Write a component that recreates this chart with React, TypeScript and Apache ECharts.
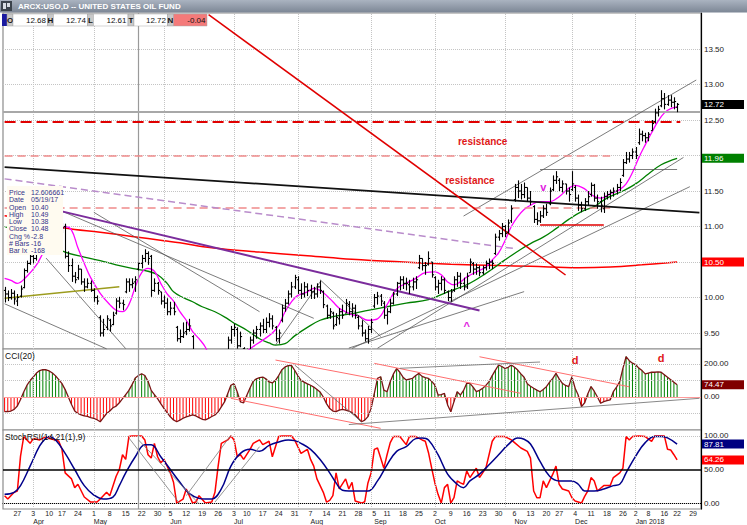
import React, { useEffect, useRef } from "react";
import * as echarts from "echarts";

const FONT = "'Liberation Sans', Arial, sans-serif";

// ---------- categories (trading days) ----------
const FIRST_DAY = "2017-03-21";
const LAST_DAY = "2018-01-31";
const HOLIDAYS = ["2017-04-14", "2017-05-29", "2017-07-04", "2017-09-04", "2017-11-23", "2017-12-25", "2018-01-01", "2018-01-15"];
const MONTH_NAMES = ["Jan", "Feb", "Mar", "Apr", "May", "Jun", "Jul", "Aug", "Sep", "Oct", "Nov", "Dec"];

// ---------- price bars: [open, high, low, close] ----------
const OHLC: number[][] = [
  [10.10, 10.15, 9.93, 10.05], [10.05, 10.10, 9.95, 10.00], [10.00, 10.12, 9.97, 10.06], [10.06, 10.10, 9.90, 9.98],
  [9.95, 10.05, 9.88, 10.00], [10.02, 10.17, 10.00, 10.12], [10.14, 10.41, 10.13, 10.38], [10.38, 10.52, 10.35, 10.48], [10.48, 10.62, 10.46, 10.58],
  [10.58, 10.62, 10.48, 10.55], [10.55, 10.72, 10.52, 10.68], [10.68, 10.80, 10.62, 10.74], [10.74, 10.88, 10.70, 10.85], [10.85, 10.92, 10.78, 10.82],
  [10.84, 10.98, 10.80, 10.95], [10.95, 11.05, 10.90, 11.00], [11.00, 11.10, 10.95, 11.02], [11.02, 11.06, 10.92, 10.98],
  [10.98, 11.05, 10.90, 10.98], [11.00, 11.04, 10.55, 10.58], [10.58, 10.65, 10.36, 10.45], [10.45, 10.55, 10.22, 10.30], [10.30, 10.36, 10.20, 10.25],
  [10.28, 10.46, 10.25, 10.40], [10.40, 10.40, 10.18, 10.22], [10.22, 10.27, 10.08, 10.15], [10.15, 10.27, 10.13, 10.20], [10.20, 10.24, 10.08, 10.10],
  [10.10, 10.13, 9.94, 10.00], [10.00, 10.03, 9.90, 9.95], [9.72, 9.75, 9.45, 9.50], [9.50, 9.70, 9.45, 9.55], [9.58, 9.75, 9.54, 9.70],
  [9.68, 9.70, 9.52, 9.60], [9.62, 9.80, 9.61, 9.75], [9.78, 9.99, 9.76, 9.95], [9.95, 10.01, 9.85, 9.92], [9.92, 9.97, 9.82, 9.90],
  [10.08, 10.27, 10.06, 10.22], [10.22, 10.27, 10.08, 10.18], [10.18, 10.27, 10.13, 10.20], [10.22, 10.30, 10.08, 10.25], [10.40, 10.49, 10.38, 10.48],
  [10.48, 10.60, 10.41, 10.55], [10.55, 10.68, 10.50, 10.62], [10.62, 10.65, 10.46, 10.55], [10.58, 10.60, 10.01, 10.10], [10.10, 10.27, 10.08, 10.20],
  [10.20, 10.22, 10.04, 10.10], [10.08, 10.08, 9.90, 9.95], [9.95, 10.03, 9.85, 9.92], [9.92, 9.99, 9.75, 9.80],
  [9.80, 9.94, 9.75, 9.85], [9.85, 9.94, 9.75, 9.80], [9.58, 9.60, 9.38, 9.42], [9.42, 9.55, 9.36, 9.45], [9.45, 9.65, 9.43, 9.50],
  [9.52, 9.66, 9.47, 9.55], [9.55, 9.70, 9.52, 9.60], [9.45, 9.47, 9.20, 9.25], [9.20, 9.22, 9.05, 9.10], [9.10, 9.15, 8.98, 9.05],
  [9.05, 9.10, 8.92, 8.95], [8.95, 8.98, 8.78, 8.85], [8.85, 8.90, 8.70, 8.75], [8.75, 8.90, 8.72, 8.82], [8.82, 8.95, 8.78, 8.90],
  [8.90, 9.00, 8.85, 8.95], [8.95, 9.10, 8.90, 9.05], [9.05, 9.15, 9.00, 9.10], [9.22, 9.45, 9.20, 9.40], [9.40, 9.60, 9.35, 9.55],
  [9.55, 9.63, 9.45, 9.58], [9.55, 9.58, 9.28, 9.32], [9.32, 9.52, 9.30, 9.45], [9.28, 9.30, 9.10, 9.15],
  [9.15, 9.28, 9.12, 9.22], [9.25, 9.45, 9.25, 9.40], [9.40, 9.55, 9.35, 9.50], [9.50, 9.60, 9.42, 9.55], [9.55, 9.65, 9.45, 9.60],
  [9.60, 9.70, 9.50, 9.55], [9.55, 9.72, 9.50, 9.65], [9.65, 9.78, 9.58, 9.70], [9.70, 9.75, 9.55, 9.60], [9.58, 9.60, 9.38, 9.42],
  [9.42, 9.55, 9.35, 9.50], [9.68, 9.90, 9.65, 9.85], [9.85, 9.98, 9.80, 9.92], [9.92, 10.10, 9.90, 10.05], [10.05, 10.22, 10.00, 10.15],
  [10.15, 10.32, 10.12, 10.28], [10.25, 10.30, 10.05, 10.10], [10.10, 10.20, 9.98, 10.05], [10.05, 10.22, 10.00, 10.15], [10.15, 10.20, 10.02, 10.10],
  [10.10, 10.18, 9.98, 10.08], [10.08, 10.15, 9.98, 10.05], [10.05, 10.20, 10.00, 10.15], [10.15, 10.24, 10.05, 10.10], [10.08, 10.10, 9.85, 9.90],
  [9.88, 9.90, 9.70, 9.75], [9.75, 9.85, 9.70, 9.80], [9.78, 9.80, 9.55, 9.60], [9.62, 9.78, 9.60, 9.72], [9.70, 9.85, 9.62, 9.80],
  [9.80, 9.90, 9.70, 9.75], [9.78, 9.98, 9.78, 9.92], [9.90, 9.95, 9.75, 9.80], [9.80, 9.92, 9.72, 9.85], [9.85, 9.90, 9.70, 9.75],
  [9.72, 9.75, 9.55, 9.60], [9.60, 9.68, 9.45, 9.50], [9.50, 9.55, 9.38, 9.42], [9.42, 9.60, 9.35, 9.55], [9.55, 9.70, 9.50, 9.65],
  [9.88, 10.05, 9.85, 10.00], [10.00, 10.08, 9.90, 10.02], [10.02, 10.05, 9.88, 9.95], [9.92, 9.95, 9.70, 9.75],
  [9.75, 9.85, 9.62, 9.80], [9.80, 9.98, 9.78, 9.92], [9.92, 10.08, 9.90, 10.05], [10.05, 10.22, 10.02, 10.20], [10.20, 10.30, 10.10, 10.25],
  [10.25, 10.30, 10.12, 10.20], [10.20, 10.28, 10.10, 10.20], [10.18, 10.25, 10.05, 10.15], [10.15, 10.28, 10.10, 10.22], [10.22, 10.30, 10.12, 10.25],
  [10.42, 10.60, 10.40, 10.55], [10.55, 10.55, 10.38, 10.45], [10.45, 10.50, 10.32, 10.45], [10.47, 10.65, 10.45, 10.55], [10.50, 10.50, 10.28, 10.32],
  [10.28, 10.30, 10.10, 10.15], [10.15, 10.25, 10.05, 10.20], [10.20, 10.30, 10.10, 10.25], [10.25, 10.28, 10.05, 10.10], [10.08, 10.10, 9.95, 10.00],
  [10.00, 10.12, 9.94, 10.08], [10.10, 10.30, 10.08, 10.25], [10.25, 10.36, 10.15, 10.30], [10.30, 10.35, 10.12, 10.20], [10.20, 10.28, 10.10, 10.15],
  [10.15, 10.35, 10.12, 10.30], [10.35, 10.55, 10.35, 10.50], [10.48, 10.50, 10.32, 10.40], [10.40, 10.48, 10.32, 10.42], [10.42, 10.45, 10.30, 10.35],
  [10.35, 10.45, 10.32, 10.42], [10.42, 10.52, 10.38, 10.48], [10.48, 10.55, 10.40, 10.50], [10.50, 10.53, 10.40, 10.48], [10.62, 10.90, 10.60, 10.85],
  [10.85, 10.95, 10.80, 10.90], [10.90, 11.05, 10.85, 11.00], [11.00, 11.02, 10.85, 10.90], [10.92, 11.10, 10.90, 11.05], [11.08, 11.30, 11.05, 11.25],
  [11.38, 11.60, 11.35, 11.55], [11.55, 11.65, 11.40, 11.50], [11.50, 11.60, 11.38, 11.45], [11.45, 11.62, 11.40, 11.55], [11.55, 11.55, 11.35, 11.40],
  [11.40, 11.50, 11.30, 11.35], [11.28, 11.30, 11.05, 11.10], [11.10, 11.20, 11.02, 11.08], [11.08, 11.22, 11.05, 11.15], [11.15, 11.30, 11.12, 11.25],
  [11.25, 11.32, 11.15, 11.20], [11.32, 11.55, 11.30, 11.50], [11.52, 11.72, 11.50, 11.65], [11.65, 11.78, 11.60, 11.70],
  [11.65, 11.68, 11.50, 11.55], [11.55, 11.65, 11.48, 11.60], [11.60, 11.60, 11.45, 11.50], [11.50, 11.55, 11.35, 11.45], [11.52, 11.78, 11.50, 11.60],
  [11.55, 11.58, 11.35, 11.40], [11.40, 11.45, 11.22, 11.30], [11.30, 11.35, 11.20, 11.25], [11.25, 11.40, 11.22, 11.35], [11.35, 11.50, 11.30, 11.42],
  [11.45, 11.62, 11.42, 11.58], [11.58, 11.60, 11.35, 11.40], [11.40, 11.45, 11.25, 11.35], [11.35, 11.42, 11.20, 11.30], [11.25, 11.48, 11.19, 11.42],
  [11.42, 11.50, 11.38, 11.45], [11.45, 11.52, 11.38, 11.48], [11.48, 11.55, 11.42, 11.50], [11.50, 11.60, 11.45, 11.55], [11.55, 11.68, 11.50, 11.62],
  [11.72, 11.95, 11.70, 11.90], [11.90, 12.05, 11.88, 11.95], [11.95, 12.05, 11.90, 12.00], [12.00, 12.10, 11.95, 12.05],
  [12.05, 12.12, 11.95, 12.00], [12.18, 12.38, 12.15, 12.30], [12.30, 12.35, 12.20, 12.28], [12.28, 12.32, 12.18, 12.25],
  [12.25, 12.33, 12.20, 12.30], [12.35, 12.50, 12.35, 12.45], [12.48, 12.66, 12.45, 12.60], [12.60, 12.70, 12.55, 12.65], [12.70, 12.92, 12.68, 12.80],
  [12.80, 12.88, 12.65, 12.72], [12.72, 12.85, 12.70, 12.78], [12.78, 12.85, 12.68, 12.75], [12.75, 12.82, 12.65, 12.76],
  [12.68, 12.74, 12.61, 12.72],
];

// ---------- overlays: [dayIndex, value] ----------
const MA_MAGENTA: number[][] = [
  [0, 10.27], [2, 10.24], [4, 10.2], [7, 10.3], [10, 10.46], [12, 10.62], [14, 10.75], [16, 10.88], [19, 11.0], [21, 10.95], [23, 10.7],
  [25, 10.48], [27, 10.28], [30, 10.06], [33, 9.9], [35, 9.82], [37, 9.8], [39, 9.9], [41, 10.15], [43, 10.35], [45, 10.41], [47, 10.37],
  [49, 10.2], [51, 10.05], [53, 9.95], [55, 9.8], [57, 9.68], [59, 9.52], [61, 9.42], [63, 9.3], [65, 9.1], [67, 9.0], [70, 8.98],
  [73, 9.12], [76, 9.24], [78, 9.31], [81, 9.4], [84, 9.5], [86, 9.61], [88, 9.8], [90, 9.94], [92, 10.03], [95, 10.08], [97, 10.13],
  [99, 10.1], [101, 10.03], [103, 9.94], [105, 9.85], [107, 9.8], [109, 9.76], [111, 9.74], [114, 9.68], [117, 9.7], [120, 9.9],
  [123, 10.12], [126, 10.2], [129, 10.27], [132, 10.35], [135, 10.36], [137, 10.32], [139, 10.22], [141, 10.18], [143, 10.22],
  [145, 10.29], [148, 10.36], [151, 10.43], [153, 10.53], [155, 10.63], [157, 10.8], [159, 11.0], [161, 11.14], [163, 11.24],
  [165, 11.3], [168, 11.35], [171, 11.35], [174, 11.42], [177, 11.54], [179, 11.58], [182, 11.53], [184, 11.45], [187, 11.4],
  [190, 11.46], [193, 11.52], [195, 11.6], [197, 11.76], [199, 11.97], [201, 12.15], [203, 12.32], [205, 12.48], [207, 12.6],
  [209, 12.66], [211, 12.68],
];
const MA_GREEN: number[][] = [
  [0, 11.0], [10, 10.82], [19, 10.64], [25, 10.57], [30, 10.52], [35, 10.46], [40, 10.41], [45, 10.37], [48, 10.32], [51, 10.2],
  [53, 10.08], [56, 10.0], [59, 9.94], [62, 9.87], [66, 9.8], [70, 9.7], [72, 9.64], [76, 9.54], [80, 9.42], [83, 9.36], [85, 9.33],
  [88, 9.35], [91, 9.46], [95, 9.58], [99, 9.68], [103, 9.73], [107, 9.76], [110, 9.78], [114, 9.82], [120, 9.87], [126, 9.92],
  [133, 9.97], [139, 10.08], [145, 10.18], [151, 10.34], [157, 10.53], [162, 10.68], [165, 10.76], [169, 10.85], [173, 10.97],
  [177, 11.1], [181, 11.21], [185, 11.28], [189, 11.4], [194, 11.5], [198, 11.6], [202, 11.74], [206, 11.87], [211, 11.96],
];
const MA_RED: number[][] = [
  [0, 11.15], [10, 11.08], [19, 10.98], [30, 10.92], [40, 10.86], [50, 10.8], [55, 10.77], [65, 10.7], [80, 10.64], [95, 10.59],
  [109, 10.54], [125, 10.5], [140, 10.47], [155, 10.45], [165, 10.44], [180, 10.42], [190, 10.43], [200, 10.46], [211, 10.5],
];

// ---------- CCI(20), one value per day ----------
const CCI: number[] = [
  -89, -88, -85, -75, -55, -15, 30, 70, 100, 121,
  145, 160, 166, 165, 158, 145, 128, 105, 81, 45,
  0, -45, -85, -100, -108, -115, -118, -125, -130, -138,
  -150, -125, -100, -85, -65, -55, -35, -10, 15, 40,
  75, 115, 130, 141, 130, 95, 40, 15, -10, -40,
  -69, -95, -120, -139, -150, -140, -129, -120, -115, -109,
  -115, -125, -135, -139, -130, -118, -109, -90, -60, -30,
  20, 71, 81, 30, -30, -35, 10, 55, 95, 110,
  118, 121, 110, 91, 85, 101, 130, 165, 182, 190,
  192, 162, 130, 101, 90, 80, 71, 60, 45, 30,
  0, -40, -70, -85, -89, -80, -75, -79, -85, -95,
  -109, -130, -150, -140, -119, -69, 20, 113, 123, 42,
  32, 93, 140, 173, 150, 120, 103, 108, 113, 130,
  143, 125, 118, 113, 95, 73, 12, 15, 22, -48,
  -89, -28, 32, 12, 40, 83, 83, 60, 32, 40,
  53, 70, 93, 130, 163, 194, 185, 173, 180, 194,
  180, 163, 140, 120, 80, 65, 53, 42, 32, 45,
  63, 90, 113, 143, 110, 83, 70, 63, 123, 53,
  10, -58, -35, 20, 63, 35, 0, -38, -28, -22,
  -18, 32, 60, 93, 173, 245, 220, 205, 195, 175,
  160, 140, 145, 150, 150, 152, 150, 135, 120, 105,
  90, 74.47,
];

// ---------- StochRSI(14,21(1),9): [dayIndex, value] ----------
const STOCH_RSI: number[][] = [
  [0, 11], [1, 6], [3, 16], [4, 18], [5, 70], [6, 99], [8, 89], [9, 96], [11, 94], [13, 99], [14, 96], [16, 94], [17, 92], [18, 80],
  [19, 45], [21, 36], [22, 23], [23, 28], [25, 9], [27, 1.5], [29, 1.5], [30, 6], [32, 16], [33, 11], [35, 40], [36, 50], [37, 72],
  [38, 65], [39, 99], [40, 100], [43, 100], [44, 94], [45, 72], [46, 67], [47, 89], [48, 69], [49, 60], [50, 65], [51, 55], [52, 45],
  [53, 31], [54, 0], [56, 6], [57, 21], [59, 0], [60, 1.5], [61, 11], [63, 0], [65, 1.5], [66, 16], [67, 55], [68, 89], [70, 94],
  [71, 100], [72, 94], [73, 69], [74, 72], [75, 65], [77, 80], [78, 89], [80, 94], [81, 87], [83, 92], [84, 69], [86, 99], [87, 100],
  [90, 100], [91, 94], [93, 74], [95, 80], [96, 65], [97, 55], [98, 36], [99, 26], [100, 16], [101, 1.5], [102, 4], [103, 11],
  [104, 45], [105, 21], [107, 36], [108, 21], [109, 31], [110, 3], [111, 1.5], [112, 0], [113, 2], [114, 30], [115, 45], [116, 80],
  [117, 82], [118, 67], [119, 52], [120, 72], [121, 90], [122, 99], [124, 99], [126, 87], [127, 99], [129, 99], [131, 94], [132, 92],
  [133, 75], [134, 52], [135, 30], [136, 13], [137, 0], [138, 23], [139, 28], [140, 0], [141, 8], [142, 33], [143, 30], [144, 28],
  [145, 48], [146, 38], [148, 52], [149, 38], [151, 52], [152, 72], [153, 92], [154, 99], [157, 99], [159, 94], [160, 90], [162, 82],
  [164, 77], [165, 67], [166, 18], [167, 8], [168, 8], [169, 33], [170, 23], [172, 43], [173, 55], [174, 28], [175, 21], [177, 18],
  [178, 8], [179, 3], [181, 0], [182, 10], [183, 18], [184, 38], [185, 33], [186, 18], [187, 22], [188, 26], [190, 26], [191, 38],
  [193, 45], [194, 52], [195, 99], [196, 94], [197, 99], [199, 100], [201, 99], [203, 92], [204, 100], [207, 100], [208, 80],
  [209, 79], [210, 72], [211, 64.26],
];
const STOCH_SIGNAL: number[][] = [
  [0, 13], [3, 16], [5, 26], [8, 55], [11, 85], [13, 97], [14, 99], [16, 94], [19, 74], [22, 50], [25, 26], [28, 12], [31, 6],
  [34, 9], [36, 26], [38, 45], [41, 69], [44, 87], [46, 87], [49, 69], [52, 50], [55, 31], [58, 14], [61, 7], [63, 6], [65, 6],
  [68, 21], [71, 55], [74, 74], [77, 80], [80, 77], [83, 86], [86, 91], [89, 94], [91, 93], [93, 89], [96, 80], [99, 65], [102, 45],
  [104, 30], [106, 19], [108, 18], [111, 18], [114, 18], [117, 33], [120, 57], [123, 77], [126, 84], [129, 96], [131, 97], [133, 94],
  [136, 72], [139, 43], [142, 28], [144, 23], [146, 33], [149, 43], [152, 57], [155, 72], [158, 87], [161, 97], [163, 95], [165, 88],
  [168, 62], [171, 40], [174, 33], [178, 33], [180, 28], [182, 18], [185, 18], [188, 21], [191, 26], [193, 28], [195, 45], [198, 70],
  [201, 90], [204, 99], [206, 99], [208, 97], [211, 87.81],
];

// ---------- drawn annotations: [day1, value1, day2, value2] ----------
const PRICE_RED_DASH_THICK = [[0, 12.47, 212, 12.47]];
const PRICE_SALMON_DASH = [[0, 12.0, 190, 12.0], [0, 11.26, 190, 11.26]];
const PRICE_BLACK = [[0, 11.836, 218, 11.196]];
const PRICE_PURPLE_DASH = [[0, 11.671, 160, 10.689]];
const PRICE_PURPLE = [[18, 11.213, 149, 9.818]];
const PRICE_RED = [[64, 13.984, 176, 10.317], [168, 11.02, 188, 11.02]];
const PRICE_OLIVE = [[0, 9.99, 36, 10.15]];
const PRICE_GREY = [
  [0, 9.912, 32, 9.277], [13, 10.556, 38, 9.28], [18, 11.216, 97, 9.707], [28, 11.2, 80, 9.8],
  [99, 10.25, 118, 9.45], [85, 9.33, 99, 10.22], [144, 11.147, 217, 13.063], [117, 9.286, 213, 11.973],
  [109, 9.283, 215, 11.561], [108, 9.288, 163, 10.083], [168, 11.8, 211, 11.8],
];
const CCI_PINK = [[85, 224, 118, 103], [71, -8, 118, -190], [116, 204, 162, 22], [149, 244, 196, 62]];
const CCI_GREY = [[91, 194, 112, -150], [108, -167, 218, -8], [124, 174, 168, 212]];
const STOCH_GREY = [[39, 97, 55, -1], [42, 94, 61, -1], [57, 11, 71, 101], [66, 1.5, 80, 84]];

const CROSS_DAY = 42;
const CROSS_PRICE = 12.606661;

// ---------- axis ticks & last values ----------
const PRICE_TICKS = [9.5, 10, 11, 11.5, 12.5, 13, 13.5];
const PRICE_GRID = [9.5, 10, 10.5, 11, 11.5, 12, 12.5, 13, 13.5];
const CCI_TICKS = [0, 200];
const CCI_GRID = [200, 100, -100];
const STOCH_TICKS = [0, 50, 100];
const PRICE_LAST = [12.72, 11.96, 10.5];
const CCI_LAST = [74.47];
const STOCH_LAST = [87.81, 64.26];

function buildDates(): string[] {
  const out: string[] = [];
  const d = new Date(FIRST_DAY + "T12:00:00Z");
  const end = new Date(LAST_DAY + "T12:00:00Z");
  while (d <= end) {
    const wd = d.getUTCDay();
    const s = d.toISOString().slice(0, 10);
    if (wd !== 0 && wd !== 6 && HOLIDAYS.indexOf(s) < 0) out.push(s);
    d.setUTCDate(d.getUTCDate() + 1);
  }
  return out;
}
const DATES = buildDates();
const mondayKey = (s: string) => {
  const d = new Date(s + "T12:00:00Z");
  d.setUTCDate(d.getUTCDate() - (d.getUTCDay() - 1));
  return d.toISOString().slice(0, 10);
};
const WEEK_START = DATES.map((s, i) => i > 0 && mondayKey(s) !== mondayKey(DATES[i - 1]));
const MONTH_LABEL: string[] = (() => {
  let last = DATES[0].slice(0, 7);
  return DATES.map((s, i) => {
    if (!WEEK_START[i]) return "";
    const m = s.slice(0, 7);
    if (m === last) return "";
    last = m;
    const mi = Number(s.slice(5, 7)) - 1;
    return mi === 0 ? `${MONTH_NAMES[mi]} ${s.slice(0, 4)}` : MONTH_NAMES[mi];
  });
})();
const MONTH_STARTS = DATES.map((s, i) => (i > 0 && s.slice(0, 7) !== DATES[i - 1].slice(0, 7) ? i : -1)).filter((i) => i >= 0);

const DOT = { type: "dotted", color: "#c4c4c4", width: 1 };
const CROSS = { type: "solid", color: "#9a9a9a", width: 1.2 };

const segs = (list: number[][], style: any) =>
  list.map(([x1, y1, x2, y2]) => [{ coord: [x1, y1], lineStyle: style }, { coord: [x2, y2] }]);
const ml = (data: any[]) => ({
  silent: true,
  symbol: ["none", "none"],
  label: { show: false },
  emphasis: { disabled: true },
  animation: false,
  data,
});
const txt = (name: string, coord: number[], color: string, size: number) => ({
  name,
  coord,
  label: { color, fontSize: size, fontWeight: "bold", fontFamily: FONT },
});
const mp = (data: any[]) => ({
  silent: true,
  symbol: "circle",
  symbolSize: 1,
  itemStyle: { color: "rgba(0,0,0,0)" },
  label: { show: true, position: "inside", formatter: "{b}" },
  animation: false,
  data,
});

const boxRich = (bg: string) => ({
  backgroundColor: bg,
  color: "#ffffff",
  width: 40,
  height: 9,
  lineHeight: 9,
  padding: [0, 0, 0, 2],
  fontSize: 8,
  fontFamily: FONT,
});
const RICH = { k: boxRich("#000000"), g: boxRich("#008000"), r: boxRich("#ff0000"), m: boxRich("#800000"), b: boxRich("#000080") };

function buildOption(): any {
  const cats = DATES;
  const grids = [
    { left: 3, right: 42, top: 13, height: 336 },
    { left: 3, right: 42, top: 349, height: 81 },
    { left: 3, right: 42, top: 430, height: 80 },
  ].map((g) => ({ ...g, show: true, borderColor: "#8c8c8c", borderWidth: 1.2, backgroundColor: "#ffffff" }));

  const xBase = (gi: number) => ({
    type: "category",
    gridIndex: gi,
    data: cats,
    boundaryGap: true,
    axisLine: { show: false },
    axisTick: { show: false },
    axisLabel: { show: false },
    splitLine: { show: false },
  });

  const mainY = (gi: number, min: number, max: number, ticks: number[], pad: number[] = [0, 0, 0, 0]) => ({
    type: "value",
    gridIndex: gi,
    min,
    max,
    position: "right",
    axisLine: { show: true, lineStyle: { color: "#000", width: 1.2 } },
    axisTick: { show: false },
    splitLine: { show: false },
    axisLabel: {
      customValues: ticks,
      formatter: (v: number) => v.toFixed(2),
      color: "#222",
      fontSize: 8,
      lineHeight: 8,
      padding: pad,
      fontFamily: FONT,
      margin: 3,
    },
  });
  const boxY = (gi: number, min: number, max: number, vals: number[], keys: string[]) => ({
    type: "value",
    gridIndex: gi,
    min,
    max,
    position: "right",
    axisLine: { show: false },
    axisTick: { show: false },
    splitLine: { show: false },
    axisLabel: {
      customValues: vals,
      margin: 1,
      formatter: (v: number) => {
        let k = keys[0];
        vals.forEach((x, i) => {
          if (Math.abs(x - v) < 1e-6) k = keys[i];
        });
        return `{${k}|${v.toFixed(2)}}`;
      },
      rich: RICH,
    },
  });

  const P_MIN = 9.275, P_MAX = 14.007;
  const C_MIN = -200, C_MAX = 290.9;
  const S_MIN = -8.82, S_MAX = 108.8;

  const monthLines = MONTH_STARTS.map((i) => ({ xAxis: i, lineStyle: DOT }));

  const series: any[] = [
    {
      type: "line", xAxisIndex: 0, yAxisIndex: 0, data: [], z: 1,
      markLine: ml([
        ...PRICE_GRID.map((v) => ({ yAxis: v, lineStyle: DOT })),
        ...monthLines,
        { xAxis: CROSS_DAY, lineStyle: CROSS },
        { yAxis: CROSS_PRICE, lineStyle: { type: "solid", color: "#a8a8a8", width: 2 } },
      ]),
    },
    {
      type: "line", xAxisIndex: 0, yAxisIndex: 0, data: [], z: 3,
      markLine: ml([
        ...segs(PRICE_GREY, { type: "solid", color: "#5a5a5a", width: 0.8 }),
        ...segs(PRICE_SALMON_DASH, { type: [8, 5], color: "#f08a8a", width: 1.5 }),
        ...segs(PRICE_RED_DASH_THICK, { type: [11, 5], color: "#e00000", width: 2 }),
        ...segs(PRICE_BLACK, { type: "solid", color: "#111111", width: 1.8 }),
        ...segs(PRICE_PURPLE_DASH, { type: [7, 4], color: "#b98ccb", width: 1.5 }),
        ...segs(PRICE_PURPLE, { type: "solid", color: "#7b2c9c", width: 2 }),
        ...segs(PRICE_RED, { type: "solid", color: "#e00000", width: 1.5 }),
        ...segs(PRICE_OLIVE, { type: "solid", color: "#9c9c1e", width: 1.5 }),
      ]),
      markPoint: mp([
        txt("resistance", [150, 12.204], "#e01818", 10),
        txt("resistance", [146, 11.655], "#e01818", 10),
        txt("v", [169, 11.56], "#e020e0", 11),
        txt("^", [145, 9.6], "#e020e0", 11),
      ]),
    },
    { type: "line", name: "MA red", xAxisIndex: 0, yAxisIndex: 0, data: MA_RED, smooth: 0.4, symbol: "none", z: 4, lineStyle: { color: "#ff0000", width: 1.5 } },
    { type: "line", name: "MA green", xAxisIndex: 0, yAxisIndex: 0, data: MA_GREEN, smooth: 0.4, symbol: "none", z: 4, lineStyle: { color: "#008000", width: 1.3 } },
    { type: "line", name: "MA magenta", xAxisIndex: 0, yAxisIndex: 0, data: MA_MAGENTA, smooth: 0.4, symbol: "none", z: 4, lineStyle: { color: "#ff00ff", width: 1.3 } },
    {
      type: "custom", name: "USO", xAxisIndex: 0, yAxisIndex: 0, z: 5, clip: true,
      data: OHLC.map((d, i) => [i, d[0], d[1], d[2], d[3]]),
      encode: { x: 0, y: [1, 2, 3, 4] },
      renderItem: (params: any, api: any) => {
        const i = api.value(0);
        const o = api.coord([i, api.value(1)]);
        const h = api.coord([i, api.value(2)]);
        const l = api.coord([i, api.value(3)]);
        const c = api.coord([i, api.value(4)]);
        const x = Math.round(h[0]) + 0.5;
        const w = 1.6;
        const style = { stroke: "#000000", lineWidth: 1.1 };
        return {
          type: "group",
          children: [
            { type: "line", shape: { x1: x, y1: h[1], x2: x, y2: l[1] }, style },
            { type: "line", shape: { x1: x - w, y1: o[1], x2: x, y2: o[1] }, style },
            { type: "line", shape: { x1: x, y1: c[1], x2: x + w, y2: c[1] }, style },
          ],
        };
      },
    },
    {
      type: "line", xAxisIndex: 1, yAxisIndex: 2, data: [], z: 1,
      markLine: ml([
        ...CCI_GRID.map((v) => ({ yAxis: v, lineStyle: DOT })),
        ...monthLines,
        { xAxis: CROSS_DAY, lineStyle: CROSS },
        { yAxis: 0, lineStyle: { type: "solid", color: "#ff9a9a", width: 1 } },
      ]),
    },
    {
      type: "bar", name: "CCI bars", xAxisIndex: 1, yAxisIndex: 2, data: CCI, barWidth: 1, z: 2,
      itemStyle: { color: (p: any) => (p.value >= 0 ? "#008000" : "#ff0000") },
    },
    {
      type: "line", name: "CCI(20)", xAxisIndex: 1, yAxisIndex: 2, data: CCI, symbol: "none", z: 3,
      lineStyle: { color: "#7a1414", width: 1.3 },
      markLine: ml([
        ...segs(CCI_PINK, { type: "solid", color: "#ff6e6e", width: 1 }),
        ...segs(CCI_GREY, { type: "solid", color: "#6a6a6a", width: 0.8 }),
      ]),
      markPoint: mp([txt("d", [179, 224], "#e01818", 11), txt("d", [206, 234], "#e01818", 11)]),
    },
    {
      type: "line", xAxisIndex: 2, yAxisIndex: 4, data: [], z: 1,
      markLine: ml([
        { yAxis: 100, lineStyle: DOT },
        { yAxis: 0, lineStyle: DOT },
        ...monthLines,
        { xAxis: CROSS_DAY, lineStyle: CROSS },
        { yAxis: 50, lineStyle: { type: "solid", color: "#000000", width: 1.5 } },
      ]),
    },
    {
      type: "line", name: "StochRSI", xAxisIndex: 2, yAxisIndex: 4, data: STOCH_RSI, symbol: "none", z: 3,
      lineStyle: { color: "#ff0000", width: 1.5 },
      markLine: ml(segs(STOCH_GREY, { type: "solid", color: "#7a7a7a", width: 0.8 })),
    },
    {
      type: "line", name: "Signal", xAxisIndex: 2, yAxisIndex: 4, data: STOCH_SIGNAL, smooth: 0.4, symbol: "none", z: 4,
      lineStyle: { color: "#00008b", width: 1.5 },
    },
  ];

  const G = (el: any) => ({ z: 100, silent: true, ...el });
  const infoLabel = (x: number, t: string) => [
    G({ type: "rect", shape: { x, y: 14, width: 6, height: 12 }, style: { fill: "#c9c9c9", stroke: "#9a9a9a", lineWidth: 0.5 } }),
    G({ type: "text", x: x + 3, y: 20, style: { text: t, fill: "#111", font: `bold 8px ${FONT}`, lineHeight: 8, textAlign: "center", textVerticalAlign: "middle" } }),
  ];
  const infoValue = (x: number, w: number, t: string, bg: string) => [
    G({ type: "rect", shape: { x, y: 14, width: w, height: 12 }, style: { fill: bg, stroke: "#a8a8a8", lineWidth: 0.5 } }),
    G({ type: "text", x: x + w - 1.5, y: 20, style: { text: t, fill: "#111", font: `8px ${FONT}`, lineHeight: 8, textAlign: "right", textVerticalAlign: "middle" } }),
  ];
  const dwRows = [
    ["Price", "12.606661"], ["Date", "05/19/17"], ["Open", "10.40"], ["High", "10.49"], ["Low", "10.38"],
    ["Close", "10.48"], ["Chg %", "-2.8"], ["# Bars", "-16"], ["Bar Ix", "-168"],
  ];

  const graphic: any[] = [
    G({
      type: "rect", shape: { x: 0, y: 0, width: 747, height: 12.5 },
      style: { fill: new echarts.graphic.LinearGradient(0, 0, 0, 1, [{ offset: 0, color: "#aab3c0" }, { offset: 1, color: "#7c8695" }]) },
    }),
    G({ type: "rect", shape: { x: 1, y: 1, width: 11, height: 10 }, style: { fill: "#3b434c" } }),
    G({ type: "rect", shape: { x: 3, y: 3, width: 3, height: 6 }, style: { fill: "#d8dde3" } }),
    G({ type: "rect", shape: { x: 7, y: 3, width: 3, height: 4 }, style: { fill: "#d8dde3" } }),
    G({ type: "text", x: 18, y: 6.5, style: { text: "ARCX:USO,D -- UNITED STATES OIL FUND", fill: "#ffffff", font: `bold 8px ${FONT}`, lineHeight: 8, textVerticalAlign: "middle" } }),
    G({ type: "rect", shape: { x: 2, y: 14, width: 5, height: 12 }, style: { fill: "#1a1aa0" } }),
    ...infoLabel(7, "O"), ...infoValue(13, 34.5, "12.68", "#ffffff"),
    ...infoLabel(47.5, "H"), ...infoValue(53.5, 34, "12.74", "#ffffff"),
    ...infoLabel(87.5, "L"), ...infoValue(93.5, 34.5, "12.61", "#ffffff"),
    ...infoLabel(128, "T"), ...infoValue(134, 33.5, "12.72", "#ffffff"),
    ...infoLabel(167.5, "N"), ...infoValue(173.5, 33.5, "-0.04", "#f47a7a"),
    G({ type: "rect", shape: { x: 7, y: 186, width: 56, height: 69 }, style: { fill: "#fffbf0" } }),
    ...dwRows.flatMap(([k, v], i) => [
      G({ type: "text", x: 9, y: 192.5 + i * 7.25, style: { text: k, fill: "#33338a", font: `7px ${FONT}`, lineHeight: 7, textVerticalAlign: "middle" } }),
      G({ type: "text", x: 31, y: 192.5 + i * 7.25, style: { text: v, fill: "#33338a", font: `7px ${FONT}`, lineHeight: 7, textVerticalAlign: "middle" } }),
    ]),
    G({ type: "text", x: 5, y: 355.5, style: { text: "CCI(20)", fill: "#111", font: `8.5px ${FONT}`, lineHeight: 9, textVerticalAlign: "middle" } }),
    G({ type: "text", x: 5, y: 436.5, style: { text: "StochRSI(14,21(1),9)", fill: "#111", font: `8.5px ${FONT}`, lineHeight: 9, textVerticalAlign: "middle" } }),
  ];

  return {
    animation: false,
    backgroundColor: "#ffffff",
    textStyle: { fontFamily: FONT },
    grid: grids,
    xAxis: [
      xBase(0),
      xBase(1),
      {
        ...xBase(2),
        axisLine: { show: true, lineStyle: { color: "#000", width: 1 } },
        axisLabel: {
          show: true,
          interval: (i: number) => WEEK_START[i],
          formatter: (v: string) => String(Number(v.slice(8, 10))),
          color: "#222",
          fontSize: 7,
          lineHeight: 7,
          fontFamily: FONT,
          margin: 1,
        },
      },
      {
        ...xBase(2),
        position: "bottom",
        axisLabel: {
          show: true,
          interval: (i: number) => MONTH_LABEL[i] !== "",
          formatter: (_v: string, i: number) => MONTH_LABEL[i],
          align: "left",
          color: "#222",
          fontSize: 7,
          lineHeight: 7,
          fontFamily: FONT,
          margin: 9,
        },
      },
    ],
    yAxis: [
      mainY(0, P_MIN, P_MAX, PRICE_TICKS),
      boxY(0, P_MIN, P_MAX, PRICE_LAST, ["k", "g", "r"]),
      mainY(1, C_MIN, C_MAX, CCI_TICKS),
      boxY(1, C_MIN, C_MAX, CCI_LAST, ["m"]),
      mainY(2, S_MIN, S_MAX, STOCH_TICKS, [0, 0, 2, 0]),
      boxY(2, S_MIN, S_MAX, STOCH_LAST, ["b", "r"]),
    ],
    series,
    graphic,
  };
}

export default function App() {
  const ref = useRef<HTMLDivElement>(null);
  useEffect(() => {
    document.body.style.margin = "0";
    const chart = echarts.init(ref.current as HTMLDivElement, null, { renderer: "svg" });
    chart.setOption(buildOption());
    return () => chart.dispose();
  }, []);
  return <div ref={ref} style={{ width: 747, height: 525 }} />;
}
